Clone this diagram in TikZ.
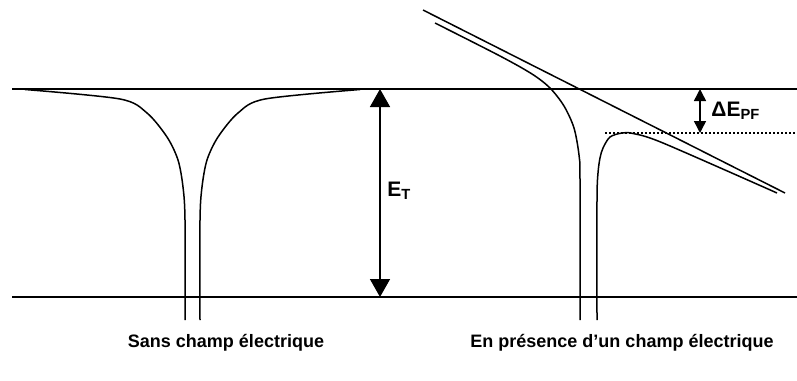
\documentclass[tikz,border=0pt]{standalone}
\usepackage{fontspec}
\setmainfont{Liberation Sans}
\usepackage{tikz}
\usetikzlibrary{arrows.meta,positioning}

\begin{document}
\begin{tikzpicture}[
    x=0.5pt, y=-0.5pt,
    level/.style={line width=0.75pt},
    well/.style={line width=0.75pt, smooth, tension=0.5},
    bigarrow/.style={line width=0.75pt,
        {Triangle[width=10pt,length=9pt]}-{Triangle[width=10pt,length=9pt]}},
    smallarrow/.style={line width=0.75pt,
        {Triangle[width=6pt,length=6pt]}-{Triangle[width=6pt,length=6pt]}},
    lbl/.style={font=\fontsize{9}{11}\selectfont\bfseries, inner sep=0pt},
    biglbl/.style={font=\fontsize{10.5}{12}\selectfont\bfseries, inner sep=0pt}
]
\useasboundingbox (0,0) rectangle (797,380);

\coordinate (topL) at (12,89);
\coordinate (topR) at (797,89);
\coordinate (botL) at (12,297);
\coordinate (botR) at (797,297);
\draw[level] (topL) -- (topR);
\draw[level] (botL) -- (botR);

\draw[well] plot coordinates {(25,89.5) (120,99) (147,113) (167,137)
    (178,160) (183,187) (185,220) (185,320)};
\draw[well] plot coordinates {(360,89.5) (265,99) (238,113) (218,137)
    (207,160) (202,187) (200,220) (200,320)};

\coordinate (fieldA) at (423,10);
\coordinate (fieldB) at (785,193);
\draw[level] (fieldA) -- (fieldB);

\draw[well] plot coordinates {(435,23) (500,56) (532,74) (550,88)
    (564,106) (574,128) (579,155) (580,180) (580,320)};
\draw[well] plot coordinates {(597,320) (597,200) (598,173) (600,158)
    (603,148) (610,137) (622,133) (633,133.5) (663,143) (777,193)};

\coordinate (pfL) at (605,133);
\coordinate (pfR) at (797,133);
\draw[level, dash pattern=on 0.8pt off 1.2pt] (pfL) -- (pfR);

\coordinate (etTop) at (380,89);
\coordinate (etBot) at (380,297);
\coordinate (etMid) at (380,191);
\draw[bigarrow] (etTop) -- (etBot);
\node[biglbl, right=3.5pt of etMid] (et) {E\textsubscript{T}};

\coordinate (pfTop) at (700,89);
\coordinate (pfBot) at (700,133);
\coordinate (pfMid) at (700,111);
\draw[smallarrow] (pfTop) -- (pfBot);
\node[biglbl, right=5.5pt of pfMid] (dpf) {ΔE\textsubscript{PF}};

\node[lbl] (capL) at (226,343) {Sans champ électrique};
\node[lbl] (capR) at (622,343) {En présence d’un champ électrique};

\end{tikzpicture}
\end{document}
